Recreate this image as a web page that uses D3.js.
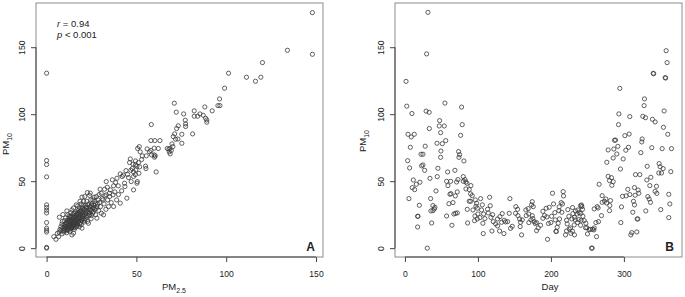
<!DOCTYPE html>
<html><head><meta charset="utf-8">
<script src="https://cdn.jsdelivr.net/npm/d3@7"></script>
<style>
body{margin:0;background:#fff}
svg{display:block}
text{font-family:"Liberation Sans",Arial,sans-serif;fill:#222}
</style>
</head><body>
<svg id="c" width="685" height="297"></svg>
<script>
// ---- tick labels ----
const xTicksA = [0, 50, 100, 150];
const yTicks = [0, 50, 100, 150];
const xTicksB = [0, 100, 200, 300];
const statLines = ["r = 0.94", "p < 0.001"];
const panelLabels = ["A", "B"];

// ---- Panel A: [PM2.5, PM10] pairs ----
const pm25VsPm10 = [
[0,130.6],[0,65.4],[0,62.4],[0,53.2],[0,32.3],[0,30.3],[0,28.3],[0,26.3],[0,19.1],[0,14.9],[0,13.4],[0,12],[0,0],[0,0.6],
[148,175.8],[148,144.7],[134.1,147.7],[120.2,138.5],[111.3,127.6],[116.3,124.6],[119.3,127.6],[101.3,130.6],[99.1,119.4],[96.3,111.4],[95.4,106.4],[96.5,106.4],[92.2,102.5],[88.1,105.4],[82.2,102.5],[82.2,98.5],[84.1,98.5],[85.4,100.2],[87.2,99.2],[88.5,97],[89.2,95.7],[89.2,94],[76.3,100.2],[72.2,101.5],[71.1,108.2],[77.2,95.5],[77.4,92.7],[77.4,90.8],[73.3,91.3],[72.4,89.3],[75.3,85],[81.3,85.3],[71.3,85.3],[70.5,83.3],[71.8,81.3],[73.1,81.5],[75.3,78.3],[69.8,77.8],[70.3,75.8],
[68.7,74.4],[69.4,72.9],[68.3,71.9],[68.8,70.4],[68.1,73.9],[67.2,74.4],[58.3,92.3],[58.1,80.3],[60.3,80.3],[63.1,80.3],[50.7,74.4],[51.6,75.8],[56,74.1],[58.1,72.9],[59.9,74.6],[62.2,74.4],[60.5,68.9],[60.1,67.9],[57.3,71.9],[58.4,69.6],[59.9,69.6],[55.5,68.9],[53.3,68.9],[52.1,71.9],[52.9,66.1],[51.2,63.9],[49.5,62.2],[50.3,61.2],[51.8,60.7],[49.7,58.4],[46.6,66.6],[46.2,63.9],[48.1,62.7],[49.5,65.1],[47.7,59.4],[46.9,58.2],[48.4,56.9],[49.4,54.9],[51.4,55.9],[55.1,61.2],[55.3,59.4],[61,56.9],[44.2,57.9],[42.7,54.5],[45.1,55],[45.6,52.7],[41,55.4],[42.1,53.5],
[48.4,53.5],[50.5,49.7],[43.4,48.5],[47.1,49.7],[33.2,49.7],[39.2,52.2],[38.4,49],[36.6,51],[37.3,46.5],[39.9,46.5],[35.5,43.5],[33.8,45.5],[32.3,44],[41.8,42.8],[43.6,46],[22.7,41.5],[24,39.3],[21.2,38.5],[27.7,38.5],[30.4,41],[28.6,36],[25.8,36],[31.4,36],[33.2,39.8],[35.1,38.5],[37,39.8],[44.7,37.3],[48.4,43.5],[50.3,48.5],[41,33.6],[37.3,31.1],[31.7,24.9],
[4,8.6],[5.2,6.6],[6.7,8.6],[8.6,10.7],[7,12],[7.5,14],[8,13],[6,11],[7.1,23.1],[8,16],[8.5,18],[9,15],[9.1,25.1],[9.5,12],[8.8,20],
[10,14],[10.2,16],[10.5,17.5],[10.8,13],[11,19],[11.3,27.8],[11.5,15],[11.7,21],[12,16.5],[12,18],[12.2,13.5],[12.4,22],[12.6,24],[12.8,17],[11.2,11.5],[10,20.5],[10.6,22.5],[11.8,25],
[13,14.5],[13,19.5],[13.2,21],[13.4,16],[13.6,23],[13.8,18],[14,15],[14.1,9.9],[14.1,28.6],[14.3,20],[14.5,25],[14.6,17],[14.8,22],[15,11.2],[15,19],[15.2,26],[15.4,14],[15.5,21],[15.7,24],[15.8,17.5],[16,20],[16.2,27],[16.4,22.5],[16.5,32.3],[16.6,16],[16.8,19],[13.5,26.5],[15,30],
[17,21],[17,25],[17.2,18],[17.4,28],[17.6,23],[17.8,20],[18,26],[18.2,16],[18.3,30],[18.5,22],[18.7,24.5],[18.9,19],[19,28],[19.2,33],[19.4,21],[19.5,26],[19.7,14.9],[19.7,38.1],[19.9,24],[20,30],[20.2,22],[20.4,27],[20.6,35],[20.8,19.5],[17.3,31.5],[18.6,35],
[21,25],[21,29],[21.4,22],[21.6,32],[21.8,27],[22,24],[22.2,30],[22.4,35],[22.8,20],[23,27],[23.3,18.6],[23.5,33],[23.7,29],[24,25],[24.2,31],[24.3,41.1],[24.6,36],[24.8,22],[25,28],[25.2,33],[25.5,30],[25,24.5],
[26,27],[26.2,32],[26.5,38],[26.8,29],[27,35],[27.3,25],[28,22.4],[28,31],[28.3,33],[29,28],[29.2,40],[29.5,34],[30,31],[30.5,26],[31,37],[29.8,44],
[32,33],[32.5,39],[33,29],[34,36],[34.5,31],[35,41],[36,34],[38,42],[39,36],[40,40],
[9.3,13.2],[9.7,17.1],[10.4,15.2],[10.9,18.4],[11.1,16.3],[11.6,13.8],[11.9,19.7],[12.3,15.4],[12.7,20.6],[12.9,12.6],[13.1,17.3],[13.3,23.8],[13.7,15.2],[13.9,20.8],[14.2,16.4],[14.4,18.8],[14.7,23.4],[14.9,15.6],[15.1,17.9],[15.3,22.8],[15.6,19.6],[15.9,15.3],[16.1,23.6],[16.3,18.4],[16.7,21.4],[16.9,25.8],[17.1,16.9],[17.5,19.4],[17.7,26.7],[17.9,22.1],[18.1,24],[18.4,18],[18.8,27.2],[19.1,23],[19.3,17.6],[19.6,29.5],[19.8,20.6],[20.1,25.4],[20.3,32.1],[20.5,23.7],[20.9,28.4],[21.2,20.8],[21.5,26],[21.9,30.6],[22.3,23],[22.6,28.2],[22.9,32.4],[23.4,24.2],[23.8,26.3],[24.4,28.6],[24.9,31.8],[25.6,26.1],[26.3,30.2],[27.1,33.1],[27.6,29.6]
];

// ---- Panel B: [day, PM10] pairs ----
const dayVsPm10 = [
[31.5,176],[29.7,145],[1.5,124.5],[2.5,106],[9.6,100.5],[54.8,108.3],[29,102.3],[33.2,101.4],[77.6,105.3],[47.5,95.2],[47,91.2],[53.9,91.2],[78.5,92.2],[33.4,89.3],[4.2,85],[8.7,83],[12.8,85],[48.9,86.2],[76.3,84.2],[7.4,75.3],[27.7,76.1],[43.9,78.3],[51.2,78],[55.9,80.3],[49.3,72.5],[48.9,67.8],[73.5,72.1],[74.9,69.8],[74,67.8],[80.8,65.1],[3.7,65.3],[6.4,59.9],[22,70.1],[24.7,70.1],[22.9,61.4],[24.7,62.1],[11.5,50.9],[20.6,49.2],[15.6,47.7],[10.1,45.2],[13.3,43.7],[5.5,37],[19.7,32],[17.4,23.8],[17.9,23.8],[17.4,15.8],[34.3,52.1],[27,58.1],[35.2,37],[44.3,53.4],[45.2,59.6],[58.5,56.9],[68.5,58.1],[72.6,51.2],[57.1,49.9],[62.6,49.9],[58.9,46.7],[70.8,49.4],[79.9,53.4],[82.2,51.2],[80,49.9],[83.6,49.4],[85,48.4],[90.4,46.7],[42.5,42.7],[63,40.7],[61.7,40.2],[71.7,42],[69,39],[83.6,44.2],[88.1,43.7],[90,40.5],[92.2,39.2],[88.1,35],[90,35],[96.4,36],[98.2,33.5],[103.7,37],[116,38],[143.8,37],[174.4,34.7],[38.4,31.8],[41.1,30.5],[35.6,27.8],[38.4,28],[40.2,29.3],[60.3,33.2],[65.8,34],[57.1,24],[67.1,25.5],[69.4,26],[71.7,26.3],[36.6,18.8],[64.4,17.1],[30.6,0],[85.4,29],[85.9,18.8],[93.2,28.5],[95.9,24],[100,25.5],[97.3,31.3],[99.1,29.8],[95.4,20.5],[99.1,21.8],[102.7,22.8],[106,32.3],[105,28.5],[107.8,25.5],[109.6,22.1],[106.8,18.6],[113.2,29],[114.2,26.3],[116.9,31.7],[117.8,23],[120.1,25],[107.3,10.9],[121,19.8],[124.2,18.1],[119.2,12.8],[126.9,21.8],[130.1,23.5],[133.3,25.8],[126.9,16.6],[132.4,19.3],[136.1,20.8],[137.9,19.6],[129.7,12.8],[135.6,10.9],[140.6,19.8],[144.7,14.8],[147,16.3],[142.9,26],[152,31],[154.3,29],[151.6,26],[154.8,24.3],[157.1,21.8],[158.4,19.3],[160.7,21.1],[157.9,16.1],[159.8,9.9],[165.7,28.5],[168.9,29.5],[169.8,25.5],[166.2,24.3],[169.8,19.1],[172.6,21.1],[173.5,32.3],[175.8,31],
[357.9,147.4],[359.2,138.5],[340.1,130.5],[340.8,130.2],[356.5,127.3],[357.2,127],[294.4,119.3],[328.2,111.4],[327.7,106.4],[355.1,102.4],[293.1,100.2],[308.1,98.2],[325.9,98.4],[329.6,97.4],[339.1,96.2],[342.8,94.2],[292.6,92.2],[354.2,90.2],[360.1,85],[301.3,84],[307.2,85.2],[287.1,80.5],[288.6,80.7],[325,81.5],[324.5,79.3],[286.2,74],[278.4,73.3],[291.7,76],[302.6,73.1],[306.3,75.3],[323.2,71.3],[338.2,75],[352.4,74.3],[365.2,74.3],[285.3,67.3],[290.3,70.3],[299,66.6],[276.6,64.1],[295.3,59.1],[331.9,61.1],[348.3,63.1],[349.6,60.8],[353.7,59.4],[351.5,56.1],[347.8,56.1],[364.3,57.1],[278.4,53.6],[283,52.6],[280.3,50.4],[285.3,49.6],[283.5,46.9],[315.9,54.9],[321.8,54.9],[336.9,52.9],[331.4,50.9],[335.5,46.7],[344.6,46.2],[342.8,42.4],[345.1,40.9],[266.1,47.7],[305.4,43.9],[314.5,45.2],[319.5,43.4],[320.4,41],[315.4,39.5],[298.1,38.7],[303.1,39],[308.1,40],[332.8,38.5],[334.6,36.7],[336.4,34.2],[361.5,40.2],[313.1,35],[314.5,32.3],[362.9,33],[296.7,30.8],[330,27.8],[350.5,28.8],[361.5,22.8],[312.2,26.8],[318.2,21.8],[319.1,21.8],[295.8,19.1],[310.8,11.6],[317.7,12.1],[309.5,9.9],
[270.2,39.2],[273.4,35],[270.2,34.2],[275.3,36.7],[276.2,33.7],[281.6,35.5],[280.7,31.8],[280.3,28],[264.7,30],[269.3,24.3],[265.2,19.8],[261.6,19.1],[259.3,15.1],[262.5,8.6],[255.7,0],[256.5,0],[257,14.1],[258.8,13.6],[254.3,14.1],[252.4,13.8],[249.2,15.3],[247.9,18.6],[245.6,20.6],[243.8,23.8],[241,26],[243.3,29],[240.6,31.7],[241.9,32.2],[236.9,28.5],[238.7,26.5],[236,25.5],[233.7,27.8],[229.6,30.3],[230.1,25.8],[228.7,21.8],[232.3,23],[225,14.3],[229.6,12.6],[227.3,11.1],[232.3,9.9],[220,9.9],[221.4,20.8],[222.3,18.1],[224.6,23.8],[223.2,28.8],[216.8,42.2],[217.3,39],[214.1,34],[215.9,33],[211.3,30.8],[210.9,28],[215,26.8],[202.2,41],[203.6,33],[205.4,26.5],[205.9,21.1],[206.8,12.6],[207.5,12.4],[197.7,30.5],[193.5,29.8],[191.3,24.3],[194.5,23.3],[200.9,23.8],[199.9,19.1],[196.7,18.4],[211.8,21.8],[210,18.6],[208.6,15.6],[195.4,6.6],[180.3,19.1],[182.6,15.1],[180.3,13.1],[177.1,19.8],[178.5,18.4],[175.3,22.1],[174.4,24.3],[185.8,17.1],[189,22.3],[189,27.5],[221.4,12.8],[226.9,15.1],[259.3,29.3],[263.4,31],[238.3,21.3],[240.6,17.1],[247.4,15.3],[250.1,10.6],[233.3,21.1],[236.5,19.1],[242.4,31],[241.5,20.8],[231.9,17.3]
];

const svg = d3.select("#c");

function drawPanel(o) {
  const x = d3.scaleLinear().domain(o.xDomain).range([o.left, o.right]);
  const y = d3.scaleLinear().domain([-6.6, 183]).range([o.bottom, o.top]);
  const g = svg.append("g");

  // box
  g.append("rect").attr("x", o.left).attr("y", o.top)
    .attr("width", o.right - o.left).attr("height", o.bottom - o.top)
    .attr("fill", "none").attr("stroke", "#8c8c8c").attr("stroke-width", 1);

  // y axis
  const ya = g.append("g").attr("transform", `translate(${o.left},0)`)
    .call(d3.axisLeft(y).tickValues(yTicks).tickSize(5).tickSizeOuter(0));
  ya.select(".domain").remove();
  ya.selectAll(".tick line").attr("stroke", "#444");
  ya.selectAll(".tick text").attr("x", null).attr("dy", null)
    .attr("transform", "translate(-11.5,0) rotate(-90)")
    .attr("text-anchor", "middle").style("font-size", "8.6px")
    .style("font-family", '"Liberation Sans",Arial,sans-serif').attr("fill", "#333");
  g.append("line").attr("x1", o.left).attr("x2", o.left)
    .attr("y1", y(yTicks[0])).attr("y2", y(yTicks[yTicks.length - 1]))
    .attr("stroke", "#444");

  // x axis
  const xa = g.append("g").attr("transform", `translate(0,${o.bottom})`)
    .call(d3.axisBottom(x).tickValues(o.xTicks).tickSize(5).tickPadding(9).tickSizeOuter(0));
  xa.select(".domain").remove();
  xa.selectAll(".tick line").attr("stroke", "#444");
  xa.selectAll(".tick text").style("font-size", "8.6px")
    .style("font-family", '"Liberation Sans",Arial,sans-serif').attr("fill", "#333");
  g.append("line").attr("y1", o.bottom).attr("y2", o.bottom)
    .attr("x1", x(o.xTicks[0])).attr("x2", x(o.xTicks[o.xTicks.length - 1]))
    .attr("stroke", "#444");

  // points
  g.append("g").selectAll("circle").data(o.data).join("circle")
    .attr("cx", d => x(d[0])).attr("cy", d => y(d[1])).attr("r", 2.1)
    .attr("fill", "none").attr("stroke", "#3a3a3a").attr("stroke-width", 0.8);

  // y title PM10
  const yt = g.append("text").attr("transform", `translate(${o.yTitleX},${o.yTitleY}) rotate(-90)`)
    .attr("text-anchor", "middle").style("font-size", "9.5px").attr("fill", "#222");
  yt.append("tspan").text("PM");
  yt.append("tspan").attr("dy", 2.5).style("font-size", "7px").text("10");

  // x title
  const xt = g.append("text").attr("x", o.xTitleX).attr("y", 290)
    .attr("text-anchor", "middle").style("font-size", "9.5px").attr("fill", "#222");
  if (o.xTitleSub) {
    xt.append("tspan").text(o.xTitle);
    xt.append("tspan").attr("dy", 2.5).style("font-size", "7px").text(o.xTitleSub);
  } else {
    xt.text(o.xTitle);
  }

  // panel letter
  g.append("text").attr("x", o.right - 8).attr("y", 251).attr("text-anchor", "end")
    .style("font-size", "12px").style("font-weight", "bold").attr("fill", "#111").text(o.letter);
  return {x, y, g};
}

const A = drawPanel({left: 36, right: 323, top: 3, bottom: 257, xDomain: [-5.9, 153.9],
  xTicks: xTicksA, data: pm25VsPm10, yTitleX: 9, yTitleY: 144,
  xTitle: "PM", xTitleSub: "2.5", xTitleX: 174, letter: panelLabels[0]});

const B = drawPanel({left: 395, right: 682, top: 3, bottom: 257, xDomain: [-13.6, 379.6],
  xTicks: xTicksB, data: dayVsPm10, yTitleX: 366, yTitleY: 141,
  xTitle: "Day", xTitleSub: null, xTitleX: 550, letter: panelLabels[1]});

// statistics annotation
const st = A.g.append("text").attr("x", 57).attr("y", 27).style("font-size", "9.5px").attr("fill", "#111");
st.append("tspan").style("font-style", "italic").text("r");
st.append("tspan").text(statLines[0].slice(1));
const sp = A.g.append("text").attr("x", 57).attr("y", 38).style("font-size", "9.5px").attr("fill", "#111");
sp.append("tspan").style("font-style", "italic").text("p");
sp.append("tspan").text(statLines[1].slice(1));
</script>
</body></html>
